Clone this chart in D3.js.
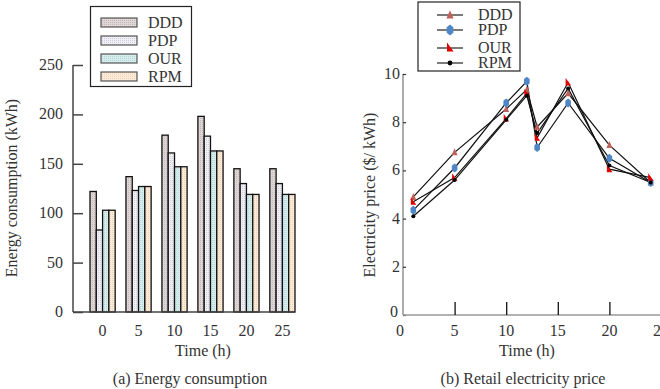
<!DOCTYPE html>
<html>
<head>
<meta charset="utf-8">
<script src="https://d3js.org/d3.v7.min.js"></script>
<style>
  body { margin: 0; background: #fff; }
  svg { font-family: "Liberation Serif", "Times New Roman", serif; }
</style>
</head>
<body>
<svg id="chart" width="660" height="389"></svg>
<script>
// ---- data ----
var series = ["DDD", "PDP", "OUR", "RPM"];

// (a) energy consumption, kWh per group
var groupLabels = ["0", "5", "10", "15", "20", "25"];
var energyDDD = [122, 137, 179, 198, 145, 145];
var energyPDP = [83, 123, 161, 178, 130, 130];
var energyOUR = [103, 127, 147, 163, 119, 119];
var energyRPM = [103, 127, 147, 163, 119, 119];
var energyTicks = [0, 50, 100, 150, 200, 250];

// (b) retail electricity price, $/kWh
var hours = [1, 5, 10, 12, 13, 16, 20, 24];
var priceDDD = [4.9, 6.75, 8.55, 9.35, 7.8, 9.2, 7.05, 5.5];
var pricePDP = [4.35, 6.1, 8.8, 9.7, 6.95, 8.8, 6.5, 5.5];
var priceOUR = [4.7, 5.7, 8.15, 9.2, 7.35, 9.65, 6.05, 5.7];
var priceRPM = [4.1, 5.6, 8.1, 9.1, 7.55, 9.4, 6.2, 5.5];
var priceTicks = [0, 2, 4, 6, 8, 10];
var hourTicks = [0, 5, 10, 15, 20, 25];

var energy = [energyDDD, energyPDP, energyOUR, energyRPM];
var price = [priceDDD, pricePDP, priceOUR, priceRPM];

var FS = 16, TXT = "#333";

var svg = d3.select("#chart");
var defs = svg.append("defs");

// dotted textures for the bars
var barBase = ["#e0d8d8", "#f1f0f6", "#d8eded", "#fcebd8"];
var barDot = ["#c2b6b6", "#cfccdb", "#b4d6d6", "#ecd3b8"];
series.forEach(function (s, i) {
  var p = defs.append("pattern").attr("id", "pat" + i)
    .attr("width", 2).attr("height", 2).attr("patternUnits", "userSpaceOnUse");
  p.append("rect").attr("width", 2).attr("height", 2).attr("fill", barBase[i]);
  p.append("rect").attr("width", 1).attr("height", 1).attr("fill", barDot[i]);
});

// ================= (a) bars =================
var yA = d3.scaleLinear().domain([0, 250]).range([312, 65]);
var xA = d3.scaleBand().domain(groupLabels).range([90, 295]).paddingInner(0.3);
var xInner = d3.scaleBand().domain(series).range([0, xA.bandwidth()]);

var gA = svg.append("g");

gA.selectAll("g.grp")
  .data(groupLabels)
  .enter().append("g")
  .attr("class", "grp")
  .attr("transform", function (d) { return "translate(" + xA(d) + ",0)"; })
  .selectAll("rect")
  .data(function (d, gi) { return series.map(function (s, si) { return { s: s, si: si, v: energy[si][gi] }; }); })
  .enter().append("rect")
  .attr("x", function (d) { return xInner(d.s); })
  .attr("y", function (d) { return yA(d.v); })
  .attr("width", xInner.bandwidth())
  .attr("height", function (d) { return yA(0) - yA(d.v); })
  .attr("fill", function (d) { return "url(#pat" + d.si + ")"; })
  .attr("stroke", "#111")
  .attr("stroke-width", 1.3);

// y axis (a)
var axA = gA.append("g").attr("transform", "translate(73,0)")
  .call(d3.axisRight(yA).tickValues(energyTicks).tickSize(10).tickFormat(""));
axA.select(".domain").attr("stroke", "#444").attr("stroke-width", 1.5).attr("d", "M0," + yA(250) + "V" + yA(0));
axA.selectAll(".tick line").attr("stroke", "#444").attr("stroke-width", 1.5);

gA.selectAll("text.ytA")
  .data(energyTicks)
  .enter().append("text")
  .attr("class", "ytA")
  .attr("x", 63).attr("y", function (d) { return yA(d) + 5; })
  .attr("text-anchor", "end").attr("font-size", FS).attr("fill", TXT)
  .text(function (d) { return d; });

// baseline
gA.append("line").attr("x1", 73).attr("x2", 295).attr("y1", yA(0)).attr("y2", yA(0))
  .attr("stroke", "#444").attr("stroke-width", 1.5);

var axAx = gA.append("g").attr("transform", "translate(0," + yA(0) + ")")
  .call(d3.axisBottom(xA).tickSize(0).tickPadding(13));
axAx.select(".domain").remove();
axAx.selectAll("text").attr("font-size", FS).attr("fill", TXT)
  .attr("font-family", "Liberation Serif, serif");

gA.append("text").attr("x", 203).attr("y", 356).attr("text-anchor", "middle")
  .attr("font-size", FS).attr("fill", TXT).text("Time (h)");
gA.append("text").attr("transform", "translate(17,188) rotate(-90)").attr("text-anchor", "middle")
  .attr("font-size", FS).attr("fill", TXT).text("Energy consumption (kWh)");
gA.append("text").attr("x", 190).attr("y", 384).attr("text-anchor", "middle")
  .attr("font-size", FS).attr("fill", TXT).text("(a) Energy consumption");

// legend (a)
var legA = gA.append("g");
legA.append("rect").attr("x", 90.5).attr("y", 6.5).attr("width", 101).attr("height", 80)
  .attr("fill", "#fff").attr("stroke", "#222").attr("stroke-width", 1.2);
series.forEach(function (s, i) {
  var yy = 18 + i * 18;
  legA.append("rect").attr("x", 101).attr("y", yy).attr("width", 36).attr("height", 9)
    .attr("fill", "url(#pat" + i + ")").attr("stroke", "#555").attr("stroke-width", 1.2);
  legA.append("text").attr("x", 148).attr("y", yy + 10).attr("font-size", FS)
    .attr("fill", TXT).text(s);
});

// ================= (b) lines =================
var yB = d3.scaleLinear().domain([0, 10]).range([315, 74]);
var xB = d3.scaleLinear().domain([0, 25]).range([403, 661]);

var gB = svg.append("g");

var line = d3.line().x(function (d, i) { return xB(hours[i]); }).y(function (d) { return yB(d); });

gB.selectAll("path.ln")
  .data(price)
  .enter().append("path")
  .attr("class", "ln")
  .attr("d", line)
  .attr("fill", "none").attr("stroke", "#111").attr("stroke-width", 1.2);

var markColor = ["#c0625c", "#4f86c6", "#e00000", "#000"];
function marker(sel, si) {
  if (si === 0) {
    sel.append("path").attr("d", "M0,-4L3,3L-3,3Z").attr("fill", markColor[0]);
  } else if (si === 1) {
    sel.append("path").attr("d", "M0,-4.5L2.8,-2.2L2.8,2.2L0,4.5L-2.8,2.2L-2.8,-2.2Z").attr("fill", markColor[1]);
  } else if (si === 2) {
    sel.append("path").attr("d", "M-2.5,-4.5L3,3L-2.5,3Z").attr("fill", markColor[2]);
  } else {
    sel.append("circle").attr("r", 2).attr("fill", markColor[3]);
  }
}

price.forEach(function (vals, si) {
  gB.selectAll("g.mk" + si)
    .data(vals)
    .enter().append("g")
    .attr("class", "mk" + si)
    .attr("transform", function (d, i) { return "translate(" + xB(hours[i]) + "," + yB(d) + ")"; })
    .each(function () { marker(d3.select(this), si); });
});

// y axis (b)
var axB = gB.append("g").attr("transform", "translate(403,0)")
  .call(d3.axisRight(yB).tickValues(priceTicks).tickSize(3).tickFormat(""));
axB.select(".domain").attr("stroke", "#999").attr("stroke-width", 1.6).attr("d", "M0," + yB(10) + "V" + yB(0));
axB.selectAll(".tick line").attr("stroke", "#333").attr("stroke-width", 1.2);

gB.selectAll("text.ytB")
  .data(priceTicks)
  .enter().append("text")
  .attr("class", "ytB")
  .attr("x", function (d) { return d === 0 ? 398 : 400; })
  .attr("y", function (d) { return d === 0 ? yB(d) + 2 : yB(d) + 5; })
  .attr("text-anchor", "end").attr("font-size", FS).attr("fill", TXT)
  .text(function (d) { return d; });

// x axis (b)
var axBx = gB.append("g").attr("transform", "translate(0," + yB(0) + ")")
  .call(d3.axisTop(xB).tickValues(hourTicks.slice(1)).tickSize(13).tickFormat(""));
axBx.select(".domain").attr("stroke", "#999").attr("stroke-width", 1.6).attr("d", "M403,0H661");
axBx.selectAll(".tick line").attr("stroke", "#111").attr("stroke-width", 1.3);

gB.selectAll("text.xtB")
  .data(hourTicks)
  .enter().append("text")
  .attr("class", "xtB")
  .attr("x", function (d) { return xB(d) - (d === 0 ? 3 : 0); })
  .attr("y", 336)
  .attr("text-anchor", "middle").attr("font-size", FS).attr("fill", TXT)
  .text(function (d) { return d; });

gB.append("text").attr("x", 527).attr("y", 356).attr("text-anchor", "middle")
  .attr("font-size", FS).attr("fill", TXT).text("Time (h)");
gB.append("text").attr("transform", "translate(375,195) rotate(-90)").attr("text-anchor", "middle")
  .attr("font-size", FS).attr("fill", TXT).text("Electricity price ($/ kWh)");
gB.append("text").attr("x", 523).attr("y", 384).attr("text-anchor", "middle")
  .attr("font-size", FS).attr("fill", TXT).text("(b) Retail electricity price");

// legend (b)
var legB = gB.append("g");
legB.append("rect").attr("x", 418).attr("y", 2).attr("width", 102).attr("height", 69)
  .attr("fill", "#fff").attr("stroke", "#222").attr("stroke-width", 1.2);
var legRowsB = [15, 30, 48, 63];
series.forEach(function (s, i) {
  var yy = legRowsB[i];
  legB.append("line").attr("x1", 437).attr("x2", 463).attr("y1", yy).attr("y2", yy)
    .attr("stroke", "#222").attr("stroke-width", 1.2);
  var m = legB.append("g").attr("transform", "translate(450," + yy + ") scale(1.2)");
  marker(m, i);
  legB.append("text").attr("x", 478).attr("y", yy + 5).attr("font-size", FS)
    .attr("fill", TXT).text(s);
});
</script>
</body>
</html>
